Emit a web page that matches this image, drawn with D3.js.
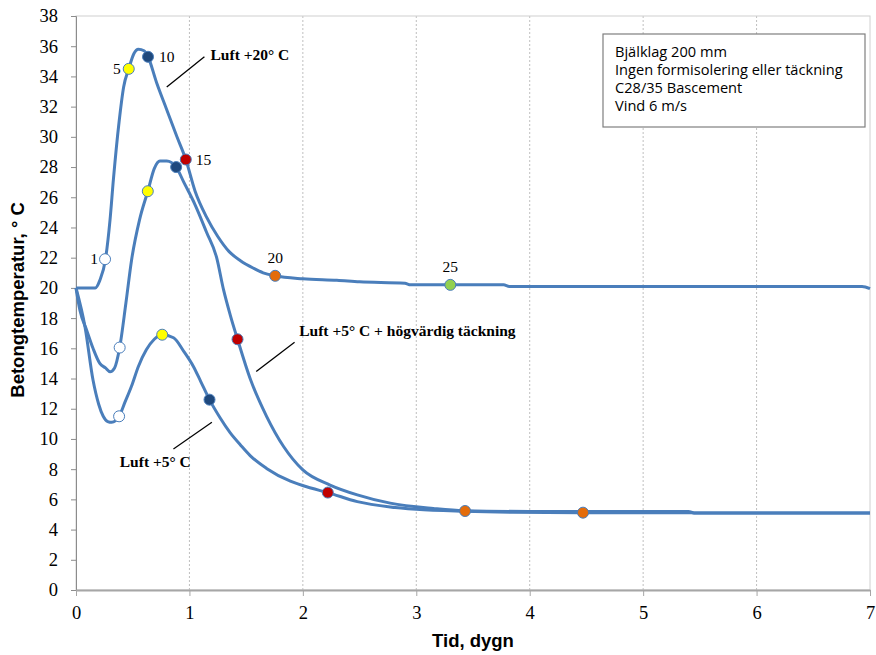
<!DOCTYPE html>
<html>
<head>
<meta charset="utf-8">
<script src="https://cdn.jsdelivr.net/npm/d3@7"></script>
<style>
  body { margin: 0; background: #fff; }
  svg { display: block; }
</style>
</head>
<body>
<div id="chart"></div>
<script>
// Luft +20° C
const luft20X = [0, 0.17, 0.21, 0.26, 0.3, 0.33, 0.38, 0.42, 0.465, 0.51, 0.55, 0.6, 0.635, 0.71, 0.8, 0.89, 0.968, 1.05, 1.15, 1.25, 1.35, 1.45, 1.565, 1.65, 1.756, 2.0, 2.3, 2.5, 2.9, 2.95, 3.3, 3.77, 3.82, 6.93, 7.0];
const luft20Y = [20, 20, 20.5, 21.9, 24.5, 27.2, 31, 33.3, 34.5, 35.5, 35.8, 35.7, 35.3, 33.6, 31.8, 30.0, 28.5, 26.4, 24.7, 23.4, 22.4, 21.8, 21.3, 21.0, 20.8, 20.6, 20.5, 20.4, 20.3, 20.2, 20.2, 20.2, 20.1, 20.1, 19.95];

// Luft +5° C + högvärdig täckning
const tackX = [0, 0.035, 0.094, 0.15, 0.21, 0.26, 0.3, 0.34, 0.385, 0.44, 0.49, 0.56, 0.633, 0.69, 0.74, 0.8, 0.883, 0.95, 1.05, 1.15, 1.24, 1.3, 1.36, 1.424, 1.535, 1.68, 1.83, 2.0, 2.24, 2.48, 2.77, 3.15, 3.42, 4.0, 5.4, 5.45, 7.0];
const tackY = [20, 18.5, 17.2, 16.0, 15.0, 14.7, 14.45, 14.7, 16.05, 19.0, 21.85, 24.5, 26.4, 27.9, 28.4, 28.4, 28.0, 27.0, 25.5, 23.7, 22.0, 19.9, 18.2, 16.6, 14.0, 11.5, 9.5, 7.95, 6.95, 6.3, 5.75, 5.4, 5.25, 5.2, 5.2, 5.1, 5.1];

// Luft +5° C
const luft5X = [0, 0.08, 0.15, 0.2, 0.24, 0.28, 0.315, 0.38, 0.43, 0.49, 0.55, 0.62, 0.69, 0.76, 0.86, 0.95, 1.035, 1.1, 1.177, 1.27, 1.36, 1.45, 1.535, 1.68, 1.89, 2.07, 2.22, 2.48, 2.77, 3.0, 3.42, 3.85, 4.47, 5.4, 5.45, 7.0];
const luft5Y = [20, 17.4, 13.9, 12.3, 11.5, 11.15, 11.1, 11.5, 12.4, 13.5, 14.8, 15.9, 16.6, 16.9, 16.7, 15.8, 14.8, 13.8, 12.6, 11.4, 10.4, 9.6, 8.9, 8.05, 7.2, 6.75, 6.45, 5.85, 5.5, 5.35, 5.22, 5.15, 5.12, 5.12, 5.1, 5.1];

// markers: [tid, temp, hållfasthet]
const luft20Points = [[0.256, 21.9, 1], [0.465, 34.5, 5], [0.635, 35.3, 10], [0.968, 28.5, 15], [1.756, 20.8, 20], [3.3, 20.2, 25]];
const tackPoints = [[0.385, 16.05, 1], [0.633, 26.4, 5], [0.883, 28.0, 10], [1.424, 16.6, 15], [3.43, 5.23, 20]];
const luft5Points = [[0.38, 11.5, 1], [0.76, 16.9, 5], [1.177, 12.6, 10], [2.22, 6.45, 15], [4.47, 5.12, 20]];

const levelColors = {1: "#ffffff", 5: "#ffff00", 10: "#1f497d", 15: "#c00000", 20: "#e46c0a", 25: "#92d050"};

const xTicks = [0, 1, 2, 3, 4, 5, 6, 7];
const yTicks = d3.range(0, 39, 2);

const legendLines = ["Bjälklag 200 mm", "Ingen formisolering eller täckning", "C28/35 Bascement", "Vind 6 m/s"];

const width = 876, height = 655;
const margin = {top: 16, right: 6, bottom: 65, left: 76};

const svg = d3.select("#chart").append("svg")
  .attr("width", width)
  .attr("height", height);

const x = d3.scaleLinear().domain([0, 7]).range([margin.left, width - margin.right]);
const y = d3.scaleLinear().domain([0, 38]).range([height - margin.bottom, margin.top]);

// vertical grid
svg.append("g")
  .selectAll("line")
  .data(xTicks.slice(1, -1))
  .join("line")
    .attr("x1", d => x(d)).attr("x2", d => x(d))
    .attr("y1", y(38)).attr("y2", y(0))
    .attr("stroke", "#bfbfbf")
    .attr("stroke-dasharray", "2 2");

// plot border
svg.append("rect")
  .attr("x", x(0)).attr("y", y(38))
  .attr("width", x(7) - x(0)).attr("height", y(0) - y(38))
  .attr("fill", "none")
  .attr("stroke", "#d0d0d0");

const serif = "'Liberation Serif', 'Times New Roman', serif";
const sans = "'Liberation Sans', Arial, sans-serif";

// y axis
const yAxis = svg.append("g")
  .attr("transform", `translate(${x(0)},0)`)
  .call(d3.axisLeft(y).tickValues(yTicks).tickSize(5).tickPadding(13));
yAxis.select(".domain").attr("stroke", "#8c8c8c");
yAxis.selectAll(".tick line").attr("stroke", "#8c8c8c");
yAxis.selectAll("text").attr("font-family", serif).attr("font-size", 18.5).attr("fill", "#000");

// x axis
const xAxis = svg.append("g")
  .attr("transform", `translate(0,${y(0)})`)
  .call(d3.axisBottom(x).tickValues(xTicks).tickFormat(d3.format("d")).tickSize(6).tickPadding(10).tickSizeOuter(0));
xAxis.select(".domain").attr("stroke", "#a6a6a6").attr("stroke-width", 2);
xAxis.selectAll(".tick line").attr("stroke", "#a6a6a6");
xAxis.selectAll("text").attr("font-family", serif).attr("font-size", 18.5).attr("fill", "#000");

// axis titles
svg.append("text")
  .text("Tid, dygn")
  .attr("x", x(3.5)).attr("y", 647)
  .attr("text-anchor", "middle")
  .attr("font-family", sans).attr("font-weight", "bold").attr("font-size", 18.5);

svg.append("text")
  .text("Betongtemperatur, ° C")
  .attr("text-anchor", "middle")
  .attr("transform", `translate(24, ${y(19.2)}) rotate(-90)`)
  .attr("font-family", sans).attr("font-weight", "bold").attr("font-size", 18.5);

// lines
const line = d3.line()
  .x(d => x(d[0]))
  .y(d => y(d[1]))
  .curve(d3.curveMonotoneX);

const series = [
  {xs: luft20X, ys: luft20Y, points: luft20Points},
  {xs: tackX, ys: tackY, points: tackPoints},
  {xs: luft5X, ys: luft5Y, points: luft5Points}
];

svg.append("g")
  .selectAll("path")
  .data(series)
  .join("path")
    .attr("d", s => line(d3.zip(s.xs, s.ys)))
    .attr("fill", "none")
    .attr("stroke", "#4a7ebb")
    .attr("stroke-width", 3)
    .attr("stroke-linejoin", "round");

// markers
svg.append("g")
  .selectAll("circle")
  .data(series.flatMap(s => s.points))
  .join("circle")
    .attr("cx", d => x(d[0]))
    .attr("cy", d => y(d[1]))
    .attr("r", 5.5)
    .attr("fill", d => levelColors[d[2]])
    .attr("stroke", "#4a7ebb")
    .attr("stroke-width", 1);

// level labels on the +20 curve
const labelOffsets = {1: [-7, 5, "end"], 5: [-8, 5, "end"], 10: [11, 5, "start"], 15: [10, 5, "start"], 20: [0, -13, "middle"], 25: [0, -13, "middle"]};
svg.append("g")
  .selectAll("text")
  .data(luft20Points)
  .join("text")
    .text(d => d[2])
    .attr("x", d => x(d[0]) + labelOffsets[d[2]][0])
    .attr("y", d => y(d[1]) + labelOffsets[d[2]][1])
    .attr("text-anchor", d => labelOffsets[d[2]][2])
    .attr("font-family", serif).attr("font-size", 15.5);

// annotations
const notes = [
  {text: "Luft +20° C", from: [0.8, 33.3], to: [1.132, 35.3], at: [1.186, 35.1], anchor: "start"},
  {text: "Luft +5° C + högvärdig täckning", from: [1.589, 14.46], to: [1.927, 16.4], at: [1.968, 16.82], anchor: "start"},
  {text: "Luft +5° C", from: [1.198, 11.11], to: [0.859, 9.34], at: [1.012, 8.17], anchor: "end"}
];

const ann = svg.append("g").selectAll("g").data(notes).join("g");
ann.append("line")
  .attr("x1", d => x(d.from[0])).attr("y1", d => y(d.from[1]))
  .attr("x2", d => x(d.to[0])).attr("y2", d => y(d.to[1]))
  .attr("stroke", "#000").attr("stroke-width", 1.3);
ann.append("text")
  .text(d => d.text)
  .attr("x", d => x(d.at[0])).attr("y", d => y(d.at[1]))
  .attr("text-anchor", d => d.anchor)
  .attr("font-family", serif).attr("font-weight", "bold").attr("font-size", 15.5);

// info box
const box = svg.append("g").attr("transform", "translate(603,34)");
box.append("rect")
  .attr("width", 262).attr("height", 93)
  .attr("fill", "#fff")
  .attr("stroke", "#7f7f7f")
  .attr("stroke-width", 1.2);
box.selectAll("text")
  .data(legendLines)
  .join("text")
    .text(d => d)
    .attr("x", 12)
    .attr("y", (d, i) => 23 + i * 18)
    .attr("font-family", "'Open Sans', Lato, sans-serif")
    .attr("font-size", 14.6)
    .attr("fill", "#000");
</script>
</body>
</html>
